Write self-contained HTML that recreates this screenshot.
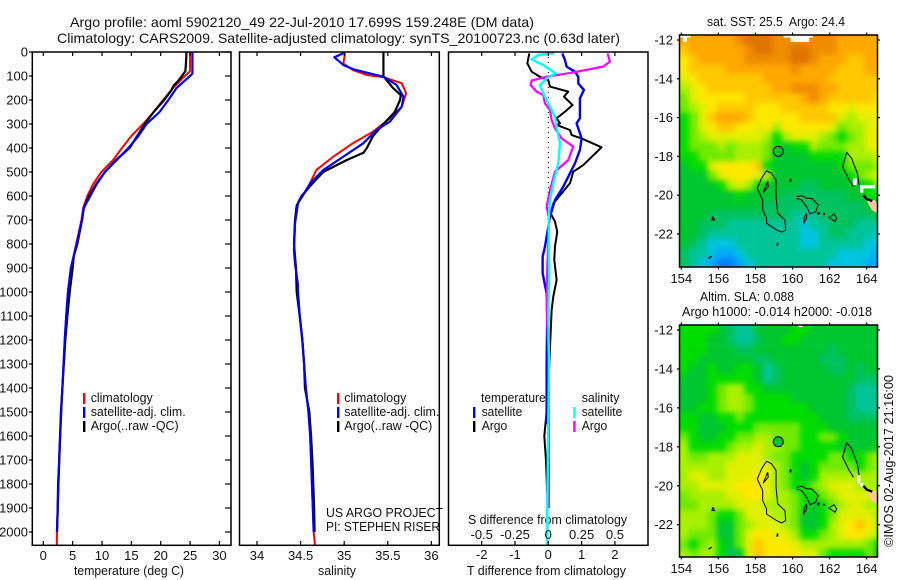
<!DOCTYPE html>
<html>
<head>
<meta charset="utf-8">
<title>Argo profile</title>
<style>
html,body{margin:0;padding:0;background:#fff;}
svg{display:block;}
text{font-family:"Liberation Sans",sans-serif;font-size:13px;fill:#111;}
</style>
</head>
<body>
<svg id="fig" xmlns="http://www.w3.org/2000/svg" width="900" height="580" viewBox="0 0 900 580">
<defs>
<clipPath id="clipT"><rect x="32.3" y="52" width="198.7" height="493.3"/></clipPath>
<clipPath id="clipS"><rect x="239.5" y="52" width="199.8" height="493.3"/></clipPath>
<clipPath id="clipD"><rect x="448.5" y="52" width="199.5" height="493.3"/></clipPath>
<clipPath id="clipM1"><rect x="679.5" y="35" width="198" height="232"/></clipPath>
<clipPath id="clipM2"><rect x="679.5" y="325" width="198" height="232"/></clipPath>
<filter id="soften" filterUnits="userSpaceOnUse" x="640" y="0" width="260" height="580" color-interpolation-filters="sRGB"><feGaussianBlur stdDeviation="3"/></filter>
</defs>
<text x="70" y="27" font-size="14" style="font-size:14px" textLength="464" lengthAdjust="spacingAndGlyphs">Argo profile: aoml 5902120_49 22-Jul-2010 17.699S 159.248E (DM data)</text>
<text x="57" y="43" style="font-size:14px" textLength="563" lengthAdjust="spacingAndGlyphs">Climatology: CARS2009. Satellite-adjusted climatology: synTS_20100723.nc (0.63d later)</text>
<text x="74" y="575" textLength="110" lengthAdjust="spacingAndGlyphs">temperature (deg C)</text>
<text x="318" y="575" textLength="38" lengthAdjust="spacingAndGlyphs">salinity</text>
<text x="467" y="575" textLength="159" lengthAdjust="spacingAndGlyphs">T difference from climatology</text>
<text x="468" y="524" textLength="159" lengthAdjust="spacingAndGlyphs">S difference from climatology</text>
<g>
<rect x="83" y="393" width="2.4" height="11" fill="#f00"/>
<rect x="83" y="407" width="2.4" height="11" fill="#00f"/>
<rect x="83" y="421" width="2.4" height="11" fill="#000"/>
<text x="90.7" y="402" textLength="62" lengthAdjust="spacingAndGlyphs">climatology</text>
<text x="90.7" y="416" textLength="95" lengthAdjust="spacingAndGlyphs">satellite-adj. clim.</text>
<text x="90.7" y="430" textLength="88" lengthAdjust="spacingAndGlyphs">Argo(..raw -QC)</text>
</g>
<g>
<rect x="337" y="393" width="2.4" height="11" fill="#f00"/>
<rect x="337" y="407" width="2.4" height="11" fill="#00f"/>
<rect x="337" y="421" width="2.4" height="11" fill="#000"/>
<text x="344.3" y="402" textLength="62" lengthAdjust="spacingAndGlyphs">climatology</text>
<text x="344.3" y="416" textLength="95" lengthAdjust="spacingAndGlyphs">satellite-adj. clim.</text>
<text x="344.3" y="430" textLength="88" lengthAdjust="spacingAndGlyphs">Argo(..raw -QC)</text>
</g>
<text x="326" y="517" textLength="117" lengthAdjust="spacingAndGlyphs">US ARGO PROJECT</text>
<text x="326" y="531" textLength="114" lengthAdjust="spacingAndGlyphs">PI: STEPHEN RISER</text>
<text x="707" y="26" textLength="138" lengthAdjust="spacingAndGlyphs" xml:space="preserve">sat. SST: 25.5  Argo: 24.4</text>
<text x="700" y="301" textLength="94" lengthAdjust="spacingAndGlyphs">Altim. SLA: 0.088</text>
<text x="682" y="316" textLength="190" lengthAdjust="spacingAndGlyphs">Argo h1000: -0.014 h2000: -0.018</text>
<text transform="translate(893,547) rotate(-90)" x="0" y="0" textLength="172" lengthAdjust="spacingAndGlyphs">©IMOS 02-Aug-2017 21:16:00</text>
</svg>
<script>
// ---- axis tick labels ----
const depthTicks = [0,100,200,300,400,500,600,700,800,900,1000,1100,1200,1300,1400,1500,1600,1700,1800,1900,2000];
const tempTicks = [0,5,10,15,20,25,30];
const salTicks = [34,34.5,35,35.5,36];
const salTickLabels = ['34','34.5','35','35.5','36'];
const tDiffTicks = [-2,-1,0,1,2];
const sDiffTicks = [-0.5,-0.25,0,0.25,0.5];
const sDiffLabels = ['-0.5','-0.25','0','0.25','0.5'];
const lonTicks = [154,156,158,160,162,164];
const latTicks = [-12,-14,-16,-18,-20,-22];

// ---- temperature profiles ----
const climTempDepth = [0,80,100,150,200,250,300,350,400,450,500,550,600,650,700,800,900,1000,1100,1200,1300,1400,1500,1600,1700,1800,1900,2000,2055];
const climTemp = [25,25,24.1,22.1,20.4,18.8,17,15,13.4,11.9,9.9,8.5,7.5,6.8,6.5,5.6,4.7,4.2,3.9,3.65,3.45,3.25,3.05,2.88,2.72,2.58,2.47,2.33,2.3];
const argoTempDepth = [0,50,80,100,120,140,160,200,250,300,350,400,450,500,550,600,650,700,800,850,900,1000,1100,1200,1300,1400,1500,1600,1700,1800,1900,2000];
const argoTemp = [24.4,24.3,24.2,23.6,23,22.2,21.8,20.6,18.8,17.3,16,14.7,12.4,10.5,9,7.8,6.9,6.6,5.8,5.2,5,4.5,4.1,3.75,3.5,3.25,3,2.85,2.7,2.52,2.45,2.33];
const satTempDepth = [0,90,100,150,200,250,300,350,400,450,500,550,600,650,700,800,900,1000,1100,1200,1300,1400,1500,1600,1700,1800,1900,2000];
const satTemp = [25.4,25.4,25,22.7,21.3,19.8,17.6,16.2,14.5,12.5,10.5,9.1,8,6.9,6.6,5.7,4.7,4.2,3.9,3.65,3.45,3.25,3.05,2.88,2.72,2.58,2.47,2.33];

// ---- salinity profiles ----
const climSalDepth = [5,48,76,96,105,130,172,228,276,332,380,436,492,575,630,714,825,880,964,1000,1100,1200,1300,1400,1500,1600,1700,1800,1900,2000,2055];
const climSal = [35.01,34.99,35.105,35.26,35.45,35.66,35.71,35.66,35.525,35.33,35.1,34.875,34.68,34.57,34.47,34.436,34.424,34.436,34.467,34.47,34.49,34.52,34.54,34.56,34.59,34.61,34.62,34.63,34.64,34.65,34.665];
const argoSalDepth = [0,100,110,150,180,200,250,300,350,400,420,450,500,550,600,640,700,800,900,1000,1100,1200,1300,1400,1500,1600,1700,1800,1900,2000];
const argoSal = [35.45,35.45,35.47,35.56,35.65,35.64,35.58,35.45,35.33,35.26,35.22,35.03,34.76,34.63,34.51,34.455,34.436,34.424,34.447,34.455,34.49,34.52,34.54,34.55,34.6,34.62,34.635,34.645,34.655,34.66];
const satSalDepth = [5,22,54,72,86,103,137,186,228,290,325,380,436,492,547,630,714,825,880,964,1000,1100,1200,1300,1400,1500,1600,1700,1800,1900,2000];
const satSal = [34.99,34.887,34.99,35.105,35.26,35.45,35.6,35.68,35.66,35.525,35.37,35.22,34.99,34.76,34.61,34.47,34.436,34.424,34.436,34.467,34.47,34.49,34.52,34.54,34.56,34.59,34.61,34.62,34.63,34.64,34.65];

// ---- difference profiles ----
const dTArgoDepth = [6,47,82,103,117,144,165,186,221,249,276,297,304,325,346,360,397,471,499,547,631,672,707,749,811,867,950,1019,1075,1300,1500,1600,1700,1850,2000];
const dTArgo = [-.57,-.63,-.5,-.25,0,.05,.6,.47,.73,.5,.25,.35,.25,.65,.7,1,1.6,1.05,.75,.65,.15,.07,.2,.27,.2,.18,.25,.15,.1,.03,-.05,-.12,-.07,-.03,-.02];
const dTSatDepth = [6,33,61,82,103,131,158,193,276,297,360,408,464,492,561,617,686,728,811,853,922,1006,1075,1300,1500,1550];
const dTSat = [.42,.5,.55,.8,.9,.9,1.07,.95,.95,.85,1,.95,.8,.7,.45,.2,.05,0,-.1,-.17,-.17,-.05,-.03,-.05,-.05,-.05];
const dSArgoDepth = [6,40,61,85,103,119,138,165,179,214,242,283,318,360,394,450,499,575,644,700,783,894,1061,1300,1900];
const dSArgo = [.445,.4625,.4125,.1875,-.0125,-.125,-.1325,-.0875,-.0375,-.025,.0125,.025,.05,.1,.1875,.15,.05,.0125,-.0125,.0075,0,-.0075,-.0125,.005,.005];
const dSSatDepth = [6,12,31,54,89,110,138,172,214,269,311,381,464,547,617,700,783,922,1075,1300,1880,2055];
const dSSat = [.0425,-.075,-.125,-.0375,.055,-.0125,-.0625,-.0375,0,.05,.0625,.0875,.075,.0375,.0125,.0025,.0025,.0075,0,.005,-.0075,-.0075];

// ---- heatmap colour scale (index -> colour) ----
const heatColors = ['#0080ff','#00a8f8','#00c4e0','#00c498','#00c260','#00c630','#00dc00','#70ea00','#a8f000','#e0f000','#ffe800','#ffc800','#ffa800','#f08c00','#e07400'];

// ---- SST grid, one row per 0.5 deg latitude, one column per 0.5 deg longitude ----
const sstGrid = [
[12,12,12,12,12,12,13,14,14,14,13,13,13,13,13,13,13,12,12,12,12,12],
[11,12,12,12,12,12,12,13,14,14,13,13,14,14,13,13,13,12,12,12,12,12],
[10,11,12,12,12,12,12,13,13,13,13,13,14,14,13,12,12,12,11,11,12,12],
[10,11,11,11,11,12,12,12,12,12,12,12,13,12,12,12,12,11,11,11,12,12],
[9,10,11,11,11,11,11,11,11,12,12,12,12,12,12,12,11,11,11,11,11,11],
[8,9,10,11,11,11,11,11,11,11,12,12,13,13,13,12,12,11,11,11,11,11],
[7,9,10,10,10,10,10,11,11,11,11,11,11,12,13,12,11,11,11,11,11,10],
[7,8,9,10,11,11,11,11,10,10,10,11,11,11,11,11,10,10,9,10,10,10],
[6,7,9,11,12,12,12,11,10,10,10,10,10,11,11,11,11,9,8,9,9,10],
[6,7,9,10,11,11,10,10,9,10,8,10,10,10,10,10,9,7,8,8,9,10],
[6,7,8,9,9,9,9,9,9,8,6,8,9,9,9,8,7,6,7,8,9,10],
[6,7,7,7,8,7,8,8,8,7,6,5,6,6,8,7,7,7,8,8,9,10],
[6,6,7,7,7,7,8,8,8,7,5,5,5,5,6,6,6,6,8,8,8,9],
[5,6,6,9,10,10,10,10,11,6,5,5,5,5,5,5,5,6,7,7,7,8],
[5,5,5,7,9,10,10,10,9,8,5,5,5,5,5,5,5,5,6,7,8,9],
[5,5,5,5,6,8,9,8,6,5,5,5,5,4,4,5,5,5,5,5,6,8],
[5,5,5,5,5,5,6,5,5,5,5,4,4,4,4,4,4,4,5,5,6,6],
[5,5,5,5,5,5,5,5,5,4,4,4,4,4,4,4,4,4,4,4,5,5],
[5,5,5,4,4,4,4,4,4,4,4,4,3,3,3,4,4,4,4,4,4,4],
[5,5,4,4,4,3,3,3,3,3,3,3,3,2,3,3,4,4,4,3,3,3],
[5,5,4,3,3,3,3,3,3,3,3,3,3,2,2,3,4,4,3,3,3,2],
[5,4,3,2,2,2,3,3,3,3,3,3,3,2,2,3,3,3,3,3,2,2],
[4,3,3,2,1,1,2,3,3,3,3,3,3,3,3,3,3,2,2,2,2,1],
[4,3,2,1,0,0,1,2,3,3,3,3,3,3,3,3,2,2,2,2,1,1]
];

// ---- SLA grid ----
const slaGrid = [
[6,6,6,6,5,4,3,3,5,5,5,5,6,6,5,5,5,5,5,5,5,5],
[6,6,6,5,5,4,3,3,4,5,5,6,6,5,5,5,5,5,5,5,5,5],
[6,6,6,5,5,5,4,4,5,5,5,5,5,5,5,5,4,5,5,5,5,5],
[6,6,5,5,5,5,5,5,4,4,5,5,5,5,5,4,4,4,5,5,5,5],
[6,5,5,6,5,5,6,6,5,3,4,5,5,5,5,5,4,4,5,4,5,5],
[5,5,5,6,6,6,6,6,5,3,4,5,5,5,5,5,5,5,5,4,4,4],
[5,5,5,6,7,8,8,6,6,5,5,5,5,5,5,5,5,5,4,3,3,3],
[5,5,5,6,7,8,8,7,6,6,6,6,5,5,5,5,5,5,4,3,3,3],
[5,5,6,6,7,8,8,7,6,6,6,6,6,6,5,5,5,5,4,3,3,3],
[6,6,5,5,6,6,7,6,6,6,6,6,6,6,6,5,5,5,4,4,4,4],
[6,6,5,5,5,6,6,6,7,7,7,7,7,6,6,6,5,5,5,5,5,5],
[7,6,5,5,6,6,7,7,8,8,7,7,7,6,6,7,7,6,5,5,5,5],
[8,6,6,6,6,7,8,8,9,8,8,7,7,6,6,6,6,5,5,5,5,6],
[8,7,7,8,8,8,9,9,9,8,7,7,6,6,6,6,7,7,6,6,7,8],
[8,8,8,8,8,9,9,9,9,9,8,7,6,5,6,7,7,7,7,6,7,8],
[8,9,9,8,8,9,9,9,10,9,8,7,6,5,6,8,8,8,8,8,8,8],
[8,8,9,9,9,9,10,10,10,9,8,7,6,6,7,8,9,9,9,8,8,8],
[7,8,8,8,8,9,9,10,10,9,8,8,7,6,6,7,8,9,9,9,9,8],
[7,7,8,8,8,8,9,9,9,8,8,8,7,6,5,6,7,8,9,9,8,8],
[8,8,8,7,6,6,7,9,9,9,8,8,7,5,5,6,7,9,9,9,9,8],
[8,8,8,7,5,5,7,8,9,9,9,8,7,5,5,6,8,9,10,11,10,8],
[8,7,7,7,5,5,7,9,10,10,9,9,8,6,6,7,8,9,10,10,9,8],
[7,6,7,8,6,5,7,9,11,10,10,10,9,8,8,8,8,8,8,8,7,6],
[8,7,8,8,6,4,5,9,11,10,10,10,10,9,9,7,6,6,6,6,7,5]
];

// ---- missing-data patches: [west, north, east, south] in degrees ----
const sstGaps = [[153.9,-11.74,154.5,-11.87],[154.1,-11.87,154.3,-12.1],[159.5,-11.74,161.1,-11.87],[159.9,-11.87,160.9,-12.1],[163.26,-19.13,163.46,-19.47],[163.64,-19.47,164.45,-19.65],[163.64,-19.65,163.82,-19.87]];
const slaGaps = [[160.3,-11.74,160.55,-11.85],[163.5,-19.45,163.65,-19.88],[163.64,-19.85,163.82,-20.05]];

// ---- coastlines in degrees ----
const landLon = [164.0,164.45,164.6,164.6,164.27];
const landLat = [-20.28,-20.25,-20.6,-20.95,-20.76];
const coastLons = [
[158.6,158.87,159.11,159.11,159.2,159.59,159.63,159.41,159.14,158.6,158.6,158.39,158.39,158.1,158.33,158.6],
[158.66,158.51,158.42,158.69,158.66],
[160.22,160.49,160.76,161.03,161.39,161.25,160.94,160.76,160.49,160.22],
[160.76,160.62,160.62,160.76,160.76],
[162.92,163.19,163.32,163.5,163.59],
[162.92,162.83,162.7,163.01,163.28],
[162.02,162.24,162.38,162.29,162.11,161.93],
[155.7,155.8,155.65,155.7],
[155.45,155.65,155.5],
[159.2,159.17],
[159.9,159.88],
[161.33,161.45,161.38],
[161.68,161.72],
[163.82,164.0,164.3]
];
const coastLats = [
[-18.74,-18.87,-19.22,-20.08,-20.93,-21.28,-21.79,-21.91,-21.79,-21.45,-21.19,-20.76,-20.25,-19.65,-19.13,-18.74],
[-19.3,-19.65,-19.87,-19.56,-19.3],
[-20.08,-20.02,-20.16,-20.16,-20.5,-20.85,-20.97,-20.59,-20.25,-20.16],
[-20.93,-21.19,-21.42,-21.19,-20.93],
[-17.79,-18.1,-18.44,-18.87,-19.47],
[-17.79,-18.1,-18.53,-19.13,-19.56],
[-21.11,-20.97,-21.19,-21.36,-21.24,-21.13],
[-21.1,-21.28,-21.28,-21.1],
[-23.25,-23.15,-23.25],
[-22.45,-22.62],
[-19.15,-19.32],
[-20.97,-20.88,-21],
[-20.92,-21.02],
[-20,-20.2,-20.3]
];
const floatLon = 159.23;
const floatLat = -17.74;

// ---- axis functions ----
const NS = 'http://www.w3.org/2000/svg';
const fig = document.getElementById('fig');
const depthY = d => 52 + d * 0.24;
const tempX = t => 43.3 + 5.87 * t;
const salX = s => 257 + 87.2 * (s - 34);
const dTX = t => 548.3 + 33.3 * t;
const dSX = s => 548.3 + 133.2 * s;
const lonX = l => 681.3 + 18.54 * (l - 154);
const latY1 = l => 40 + 19.4 * (-12 - l);
const latY2 = l => 330 + 19.47 * (-12 - l);

function mk(tag, attrs, parent) {
  const el = document.createElementNS(NS, tag);
  for (const k in attrs) el.setAttribute(k, attrs[k]);
  (parent || fig).appendChild(el);
  return el;
}
function pts(xs, ys, fx, fy) {
  return xs.map((v, i) => fx(v).toFixed(2) + ',' + fy(ys[i]).toFixed(2)).join(' ');
}
function profile(name, vals, depths, fx, color, w, clip) {
  const el = mk('polyline', {points: vals.map((v, i) => fx(v).toFixed(2) + ',' + depthY(depths[i]).toFixed(2)).join(' '), fill: 'none', stroke: color, 'stroke-width': w, 'stroke-linejoin': 'round', 'clip-path': 'url(#' + clip + ')'});
  
  
}
function tickLine(name, x1, y1, x2, y2) {
  const el = mk('line', {x1: x1, y1: y1, x2: x2, y2: y2, stroke: '#000', 'stroke-width': 1.2});
  
  
}
function label(name, str, x, y, anchor, len) {
  const el = mk('text', {x: x, y: y, 'text-anchor': anchor});
  if (len) {
    el.setAttribute('textLength', len);
    el.setAttribute('lengthAdjust', 'spacingAndGlyphs');
  }
  el.textContent = str;
  
  
}
function frame(name, x, y, w, h) {
  const el = mk('rect', {x: x, y: y, width: w, height: h, fill: 'none', stroke: '#000', 'stroke-width': 1.5});
  
  
}

// ---- profile lines ----
profile('temperature-climatology-line', climTemp, climTempDepth, tempX, '#f00', 2, 'clipT');
profile('temperature-argo-line', argoTemp, argoTempDepth, tempX, '#000', 2.2, 'clipT');
profile('temperature-satellite-line', satTemp, satTempDepth, tempX, '#00f', 2.2, 'clipT');
profile('salinity-climatology-line', climSal, climSalDepth, salX, '#f00', 2, 'clipS');
profile('salinity-argo-line', argoSal, argoSalDepth, salX, '#000', 2.2, 'clipS');
profile('salinity-satellite-line', satSal, satSalDepth, salX, '#00f', 2.2, 'clipS');

// ---- difference panel ----
const zeroLine = mk('line', {x1: dTX(0), y1: depthY(0), x2: dTX(0), y2: depthY(700), stroke: '#000', 'stroke-width': 1, 'stroke-dasharray': '1 4'});


profile('t-difference-argo-line', dTArgo, dTArgoDepth, dTX, '#000', 2, 'clipD');
profile('t-difference-satellite-line', dTSat, dTSatDepth, dTX, '#00f', 2.4, 'clipD');
profile('s-difference-argo-line', dSArgo, dSArgoDepth, dSX, '#f0f', 2.2, 'clipD');
profile('s-difference-satellite-line', dSSat, dSSatDepth, dSX, '#0ff', 2.4, 'clipD');

// ---- frames and ticks for profile panels ----
frame('temperature-panel-frame', 32.3, 52, 198.7, 493.3);
frame('salinity-panel-frame', 239.5, 52, 199.8, 493.3);
frame('difference-panel-frame', 448.5, 52, 199.5, 493.3);
depthTicks.forEach(d => {
  const y = depthY(d);
  tickLine('depth-tick-left', 29, y, 32.3, y);
  tickLine('depth-tick-right', 225, y, 231, y);
  label('depth-tick-label', String(d), 28, y + 4.5, 'end');
});
tempTicks.forEach(t => {
  tickLine('temperature-tick-top', tempX(t), 52, tempX(t), 56);
  tickLine('temperature-tick-bottom', tempX(t), 541, tempX(t), 545.3);
  label('temperature-tick-label', String(t), tempX(t), 560, 'middle');
});
salTicks.forEach((s, i) => {
  tickLine('salinity-tick-top', salX(s), 52, salX(s), 56);
  tickLine('salinity-tick-bottom', salX(s), 541, salX(s), 545.3);
  label('salinity-tick-label', salTickLabels[i], salX(s), 560, 'middle');
});
tDiffTicks.forEach(t => {
  tickLine('t-difference-tick-top', dTX(t), 52, dTX(t), 56);
  tickLine('t-difference-tick-bottom', dTX(t), 541, dTX(t), 545.3);
  label('t-difference-tick-label', String(t), dTX(t), 559, 'middle');
});
sDiffTicks.forEach((s, i) => {
  label('s-difference-tick-label', sDiffLabels[i], dSX(s), 539, 'middle');
});

// ---- difference legend ----
label('legend-temperature-heading', 'temperature', 481, 402, 'start', 64.7);
label('legend-t-satellite-label', 'satellite', 481.7, 416, 'start', 40.6);
label('legend-t-argo-label', 'Argo', 481.7, 430, 'start', 25.6);
label('legend-salinity-heading', 'salinity', 581.7, 402, 'start', 37.7);
label('legend-s-satellite-label', 'satellite', 581.7, 416, 'start', 40.6);
label('legend-s-argo-label', 'Argo', 581.7, 430, 'start', 25.6);
[[473, 407, '#00f', 'legend-t-satellite-marker'], [473, 421, '#000', 'legend-t-argo-marker'], [573.2, 407, '#0ff', 'legend-s-satellite-marker'], [573.2, 421, '#f0f', 'legend-s-argo-marker']].forEach(m => {
  const el = mk('rect', {x: m[0], y: m[1], width: 2.4, height: 11, fill: m[2]});
  
  
});

// ---- maps ----
function drawMap(prefix, grid, gaps, latY, clip, frameY, frameH, lonLabelY) {
  const g = mk('g', {'clip-path': 'url(#' + clip + ')'});
  
  
  const cells = mk('g', {filter: 'url(#soften)'}, g);
  
  
  const lastRow = grid.length - 1;
  grid.forEach((row, r) => {
    const lastCol = row.length - 1;
    row.forEach((v, c) => {
      const west = 153.9 + c * 0.5;
      const north = -11.75 - r * 0.5;
      let x = lonX(west);
      let y = latY(north);
      let w = lonX(west + 0.5) - x + 0.3;
      let h = latY(north - 0.5) - y + 0.3;
      if (c === 0) { x -= 12; w += 12; }
      if (c === lastCol) { w += 12; }
      if (r === 0) { y -= 12; h += 12; }
      if (r === lastRow) { h += 12; }
      const cell = mk('rect', {x: x.toFixed(2), y: y.toFixed(2), width: w.toFixed(2), height: h.toFixed(2), fill: heatColors[Math.max(0, Math.min(heatColors.length - 1, Math.round(v)))]}, cells);
      
      
    });
  });
  gaps.forEach(b => {
    const gap = mk('rect', {x: lonX(b[0]), y: latY(b[1]), width: lonX(b[2]) - lonX(b[0]), height: latY(b[3]) - latY(b[1]), fill: '#fff'}, g);
    
    
  });
  const land = mk('polygon', {points: pts(landLon, landLat, lonX, latY), fill: '#ffc8a0'}, g);
  
  
  coastLons.forEach((lons, i) => {
    const line = mk('polyline', {points: pts(lons, coastLats[i], lonX, latY), fill: 'none', stroke: '#000', 'stroke-width': i === 13 ? 2.4 : (i > 8 ? 1.6 : 1)}, g);
    
    
  });
  const marker = mk('circle', {cx: lonX(floatLon), cy: latY(floatLat), r: 5, fill: '#00c040', stroke: '#000', 'stroke-width': 1}, g);
  
  
  frame(prefix + '-map-frame', 679.5, frameY, 198, frameH);
  lonTicks.forEach(l => {
    tickLine(prefix + '-lon-tick-top', lonX(l), frameY - 2.5, lonX(l), frameY);
    tickLine(prefix + '-lon-tick-bottom', lonX(l), frameY + frameH, lonX(l), frameY + frameH + 2.5);
    label(prefix + '-lon-tick-label', String(l), lonX(l), lonLabelY, 'middle');
  });
  latTicks.forEach(l => {
    tickLine(prefix + '-lat-tick-left', 677, latY(l), 679.5, latY(l));
    tickLine(prefix + '-lat-tick-right', 877.5, latY(l), 880, latY(l));
    label(prefix + '-lat-tick-label', String(l), 673, latY(l) + 4.5, 'end');
  });
}
drawMap('sst', sstGrid, sstGaps, latY1, 'clipM1', 35, 232, 283);
drawMap('sla', slaGrid, slaGaps, latY2, 'clipM2', 325, 232, 573);
</script>
</body>
</html>
